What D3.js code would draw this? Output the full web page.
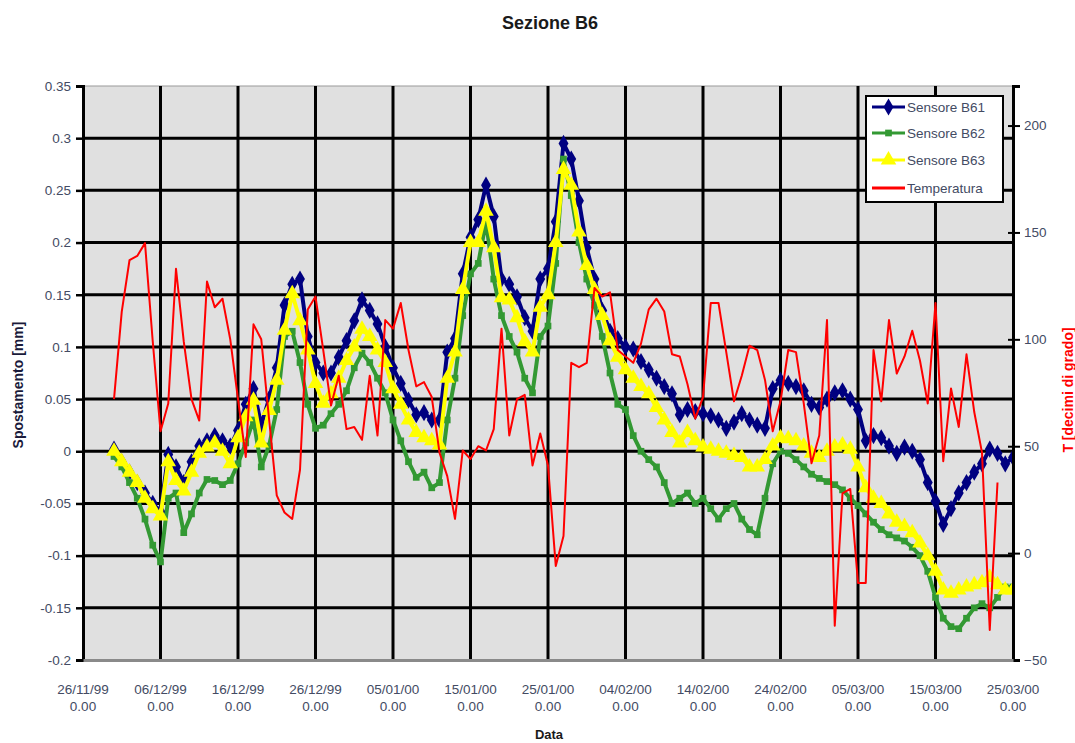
<!DOCTYPE html>
<html>
<head>
<meta charset="utf-8">
<script src="https://cdnjs.cloudflare.com/ajax/libs/d3/7.8.5/d3.min.js"></script>
<style>
  body { margin: 0; background: #fff; }
  svg  { display: block; font-family: "Liberation Sans", Arial, sans-serif; }
</style>
</head>
<body>
<svg id="chart" width="1075" height="743"></svg>
<script>
/* ================================================
   Sezione B6 — spostamenti sensori + temperatura
   ================================================ */

// ---- Data (daily readings from 30/11/99) ----
const axisStart   = new Date(1999, 10, 26);
const axisEnd     = new Date(2000, 2, 25);
const sensorStart = new Date(1999, 10, 30);
const tempStart   = new Date(1999, 10, 30);

const xTickDates = ['26/11/99', '06/12/99', '16/12/99', '26/12/99', '05/01/00', '15/01/00',
  '25/01/00', '04/02/00', '14/02/00', '24/02/00', '05/03/00', '15/03/00', '25/03/00'];
const yTicks  = [-0.2, -0.15, -0.1, -0.05, 0, 0.05, 0.1, 0.15, 0.2, 0.25, 0.3, 0.35];
const yTTicks = [-50, 0, 50, 100, 150, 200];

const b61 = [
  0.002, -0.01, -0.02, -0.03, -0.04, -0.05, -0.058, -0.003, -0.015, -0.03,
  -0.01, 0.005, 0.01, 0.015, 0.01, 0.005, 0.02, 0.045, 0.06, 0.025,
  0.05, 0.08, 0.14, 0.16, 0.165, 0.11, 0.085, 0.075, 0.075, 0.09,
  0.106, 0.125, 0.145, 0.135, 0.122, 0.1, 0.08, 0.065, 0.049, 0.035,
  0.037, 0.03, 0.03, 0.095, 0.108, 0.17, 0.205, 0.222, 0.255, 0.225,
  0.165, 0.16, 0.148, 0.128, 0.115, 0.165, 0.175, 0.22, 0.295, 0.28,
  0.24, 0.195, 0.165, 0.135, 0.115, 0.108, 0.1, 0.098, 0.086, 0.078,
  0.07, 0.062, 0.055, 0.035, 0.04, 0.038, 0.036, 0.034, 0.03, 0.022,
  0.028, 0.036, 0.03, 0.025, 0.022, 0.06, 0.068, 0.065, 0.062, 0.058,
  0.045, 0.042, 0.05, 0.056, 0.058, 0.05, 0.04, 0.01, 0.015, 0.013,
  0.005, -0.002, 0.004, 0.0, -0.008, -0.03, -0.048, -0.07, -0.055, -0.04,
  -0.03, -0.02, -0.012, 0.002, -0.002, -0.012, -0.006
];

const b62 = [
  -0.005, -0.015, -0.03, -0.045, -0.065, -0.09, -0.106, -0.045, -0.04, -0.078,
  -0.06, -0.04, -0.027, -0.028, -0.032, -0.028, -0.012, 0.008, 0.03, -0.015,
  0.005, 0.04, 0.11, 0.115, 0.085, 0.045, 0.022, 0.025, 0.036, 0.045,
  0.058, 0.08, 0.094, 0.085, 0.07, 0.056, 0.03, 0.01, -0.01, -0.025,
  -0.02, -0.035, -0.03, 0.03, 0.07, 0.13, 0.17, 0.18, 0.22, 0.165,
  0.13, 0.11, 0.095, 0.07, 0.056, 0.11, 0.12, 0.18, 0.28, 0.245,
  0.2, 0.165, 0.14, 0.11, 0.075, 0.045, 0.04, 0.015, 0.0, -0.008,
  -0.015, -0.03, -0.05, -0.045, -0.04, -0.05, -0.045, -0.055, -0.065, -0.055,
  -0.05, -0.065, -0.075, -0.08, -0.045, -0.012, 0.0, -0.002, -0.008, -0.015,
  -0.022, -0.026, -0.029, -0.032, -0.037, -0.045, -0.052, -0.06, -0.068, -0.075,
  -0.08, -0.083, -0.086, -0.092, -0.1, -0.115, -0.14, -0.16, -0.168, -0.17,
  -0.16, -0.15, -0.146, -0.15, -0.14, -0.13, -0.13
];

const b63 = [
  0.0, -0.01, -0.02, -0.03, -0.045, -0.055, -0.062, -0.01, -0.028, -0.038,
  -0.02, -0.002, 0.004, 0.008, 0.0, -0.012, 0.013, 0.033, 0.049, 0.008,
  0.039, 0.068, 0.116, 0.151, 0.125, 0.097, 0.065, 0.046, 0.055, 0.07,
  0.087, 0.1, 0.117, 0.11, 0.097, 0.085, 0.06, 0.045, 0.03, 0.018,
  0.013, 0.01, 0.006, 0.07, 0.095, 0.155, 0.2, 0.2, 0.23, 0.195,
  0.147, 0.145, 0.128, 0.105, 0.095, 0.138, 0.15, 0.2, 0.27, 0.255,
  0.21, 0.178, 0.155, 0.13, 0.106, 0.09, 0.078, 0.07, 0.062, 0.055,
  0.042, 0.03, 0.018, 0.008, 0.018, 0.01, 0.004, 0.002, 0.0, -0.002,
  -0.004, -0.006, -0.015, -0.015, -0.008, 0.005, 0.013, 0.012, 0.01, 0.005,
  -0.002, -0.006, 0.0, 0.004, 0.006, 0.002, -0.015, -0.035, -0.045, -0.05,
  -0.06, -0.068, -0.072, -0.078, -0.088, -0.1, -0.115, -0.133, -0.136, -0.133,
  -0.13, -0.128, -0.126, -0.121, -0.128, -0.133, -0.133
];

// decimi di grado
const temperatura = [
  72, 113, 137, 139, 145, 99, 57, 70, 133, 99,
  72, 62, 127, 115, 119, 100, 72, 45, 107, 100,
  63, 27, 19, 16, 39, 114, 120, 95, 69, 83,
  58, 59, 53, 83, 55, 109, 105, 117, 95, 78,
  80, 73, 47, 36, 16, 48, 44, 50, 48, 58,
  105, 55, 72, 74, 41, 56, 41, -6, 8, 89,
  87, 89, 124, 120, 122, 95, 92, 89, 98, 114,
  119, 113, 93, 92, 79, 63, 73, 117, 117, 94,
  71, 83, 97, 95, 81, 57, 71, 95, 94, 70,
  42, 55, 109, -34, 28, 30, -14, -14, 95, 71,
  109, 84, 92, 104, 90, 70, 117, 43, 77, 59,
  93, 66, 47, -36, 33
];

const series = [
  { name: 'Sensore B61', values: b61, color: '#000080', symbol: d3.symbolDiamond,  size: 85 },
  { name: 'Sensore B62', values: b62, color: '#339933', symbol: d3.symbolSquare,   size: 45 },
  { name: 'Sensore B63', values: b63, color: '#ffff00', symbol: d3.symbolTriangle, size: 105 }
];

// ---- Layout ----
const W = 1075, H = 743;
const margin = { top: 86, right: 62, bottom: 83, left: 83 };
const iW = W - margin.left - margin.right;
const iH = H - margin.top - margin.bottom;
const textCol = '#434b63';
const tickFont = 13.5;

const svg = d3.select('#chart');

const x  = d3.scaleTime().domain([axisStart, axisEnd]).range([margin.left, margin.left + iW]);
const y  = d3.scaleLinear().domain([-0.2, 0.35]).range([margin.top + iH, margin.top]);
const yT = d3.scaleLinear().domain([-50, 218.5]).range([margin.top + iH, margin.top]);

const parseTick = d3.timeParse('%d/%m/%y');
const dayOf = (start, i) => d3.timeDay.offset(start, i);

// ---- Plot background + grid ----
svg.append('rect')
  .attr('x', margin.left).attr('y', margin.top)
  .attr('width', iW).attr('height', iH)
  .attr('fill', '#e0e0e0').attr('stroke', '#9a9a9a').attr('stroke-width', 1);

svg.append('g')
  .selectAll('line')
  .data(yTicks.filter(v => v > -0.2 && v < 0.35))
  .join('line')
  .attr('x1', margin.left).attr('x2', margin.left + iW)
  .attr('y1', d => y(d)).attr('y2', d => y(d))
  .attr('stroke', '#000').attr('stroke-width', 3);

svg.append('g')
  .selectAll('line')
  .data(xTickDates.slice(1, -1).map(parseTick))
  .join('line')
  .attr('x1', d => x(d)).attr('x2', d => x(d))
  .attr('y1', margin.top).attr('y2', margin.top + iH)
  .attr('stroke', '#000').attr('stroke-width', 3);

// ---- Series ----
svg.append('clipPath').attr('id', 'plotClip')
  .append('rect')
  .attr('x', margin.left).attr('y', margin.top - 6)
  .attr('width', iW + 2).attr('height', iH + 12);

const plotG = svg.append('g').attr('clip-path', 'url(#plotClip)');

series.forEach(s => {
  const pts = s.values.map((v, i) => ({ date: dayOf(sensorStart, i), v }));
  const line = d3.line().x(d => x(d.date)).y(d => y(d.v));

  plotG.append('path')
    .datum(pts)
    .attr('d', line)
    .attr('fill', 'none')
    .attr('stroke', s.color)
    .attr('stroke-width', 4)
    .attr('stroke-linejoin', 'round');

  plotG.append('g')
    .selectAll('path')
    .data(pts)
    .join('path')
    .attr('transform', d => `translate(${x(d.date)},${y(d.v)})`)
    .attr('d', d3.symbol().type(s.symbol).size(s.size))
    .attr('fill', s.color);
});

const tempPts = temperatura.map((v, i) => ({ date: dayOf(tempStart, i), v }));
plotG.append('path')
  .datum(tempPts)
  .attr('d', d3.line().x(d => x(d.date)).y(d => yT(d.v)))
  .attr('fill', 'none')
  .attr('stroke', '#ff0000')
  .attr('stroke-width', 2)
  .attr('stroke-linejoin', 'round');

// ---- Axes ----
// left
const axL = svg.append('g')
  .attr('transform', `translate(${margin.left},0)`)
  .call(d3.axisLeft(y).tickValues(yTicks).tickSize(7).tickPadding(5)
    .tickFormat(v => v === 0 ? '0' : String(+v.toFixed(2))));
axL.select('.domain').attr('stroke', '#000').attr('stroke-width', 3);
axL.selectAll('line').attr('stroke', '#000').attr('stroke-width', 2.5);
axL.selectAll('text').attr('fill', textCol).attr('font-size', tickFont);

// right
const axR = svg.append('g')
  .attr('transform', `translate(${margin.left + iW},0)`)
  .call(d3.axisRight(yT).tickValues(yTTicks).tickSize(7).tickPadding(4));
axR.select('.domain').attr('stroke', '#000').attr('stroke-width', 3);
axR.selectAll('.tick line').attr('x1', -5).attr('stroke', '#000').attr('stroke-width', 2);
axR.selectAll('text').attr('fill', textCol).attr('font-size', tickFont);

// bottom
const axB = svg.append('g')
  .attr('transform', `translate(0,${margin.top + iH})`)
  .call(d3.axisBottom(x).tickValues(xTickDates.map(parseTick)).tickSize(0).tickFormat(''));
axB.select('.domain').attr('stroke', '#8a8a8a').attr('stroke-width', 3);

const xLab = svg.append('g');
xTickDates.forEach(t => {
  const tx = x(parseTick(t));
  const txt = xLab.append('text')
    .attr('x', tx).attr('y', 694)
    .attr('text-anchor', 'middle')
    .attr('fill', textCol).attr('font-size', tickFont);
  txt.append('tspan').attr('x', tx).text(t);
  txt.append('tspan').attr('x', tx).attr('dy', 17).text('0.00');
});

// ---- Titles ----
svg.append('text')
  .attr('x', 550).attr('y', 29)
  .attr('text-anchor', 'middle').attr('font-weight', 'bold').attr('font-size', 18)
  .attr('fill', '#1a1a1a')
  .text('Sezione B6');

svg.append('text')
  .attr('x', 549).attr('y', 739)
  .attr('text-anchor', 'middle').attr('font-weight', 'bold').attr('font-size', 13)
  .attr('fill', '#1a1a1a')
  .text('Data');

svg.append('text')
  .attr('transform', 'rotate(-90)')
  .attr('x', -385).attr('y', 23)
  .attr('text-anchor', 'middle').attr('font-weight', 'bold').attr('font-size', 14)
  .attr('fill', '#1a1a3a')
  .text('Spostamento [mm]');

svg.append('text')
  .attr('transform', 'rotate(-90)')
  .attr('x', -390).attr('y', 1073)
  .attr('text-anchor', 'middle').attr('font-weight', 'bold').attr('font-size', 14)
  .attr('fill', '#ff0000')
  .text('T [decimi di grado]');

// ---- Legend ----
const legend = svg.append('g');
legend.append('rect')
  .attr('x', 866).attr('y', 96).attr('width', 137).attr('height', 106)
  .attr('fill', '#fff').attr('stroke', '#000').attr('stroke-width', 2);

const legendItems = series.concat([{ name: 'Temperatura', color: '#ff0000', symbol: null }]);
const legendY = [107, 133, 160, 188];

legendItems.forEach((s, i) => {
  const ly = legendY[i];
  legend.append('line')
    .attr('x1', 872).attr('x2', 905).attr('y1', ly).attr('y2', ly)
    .attr('stroke', s.color).attr('stroke-width', 3);
  if (s.symbol) {
    legend.append('path')
      .attr('transform', `translate(888.5,${ly})`)
      .attr('d', d3.symbol().type(s.symbol).size(s.size))
      .attr('fill', s.color);
  }
  legend.append('text')
    .attr('x', 907).attr('y', ly + 5)
    .attr('fill', textCol).attr('font-size', 13.5)
    .text(s.name);
});
</script>
</body>
</html>
